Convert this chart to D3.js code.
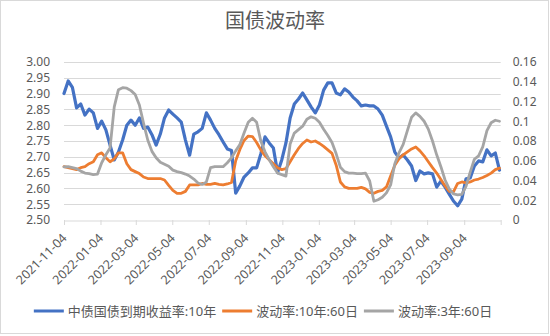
<!DOCTYPE html>
<html><head><meta charset="utf-8">
<script src="https://cdn.jsdelivr.net/npm/d3@7"></script>
<style>body{margin:0;background:#fff}svg{display:block}</style>
</head><body>
<svg id="c" width="550" height="336"></svg>
<script>
const title = "国债波动率";
const seriesNames = ["中债国债到期收益率:10年", "波动率:10年:60日", "波动率:3年:60日"];
const dates = [
"2021-11-04","2021-11-11","2021-11-18","2021-11-25","2021-12-02","2021-12-09","2021-12-16","2021-12-23","2021-12-30",
"2022-01-06","2022-01-13","2022-01-20","2022-01-27","2022-02-03","2022-02-10","2022-02-17","2022-02-24","2022-03-03","2022-03-10","2022-03-17","2022-03-24",
"2022-03-31","2022-04-07","2022-04-14","2022-04-21","2022-04-28","2022-05-05","2022-05-12","2022-05-19","2022-05-26","2022-06-02",
"2022-06-09","2022-06-16","2022-06-23","2022-06-30","2022-07-07","2022-07-14","2022-07-21","2022-07-28","2022-08-04","2022-08-11",
"2022-08-18","2022-08-25","2022-09-01","2022-09-08","2022-09-15","2022-09-22","2022-09-29","2022-10-06","2022-10-13","2022-10-20",
"2022-10-27","2022-11-03","2022-11-10","2022-11-17","2022-11-24","2022-12-01","2022-12-08","2022-12-15","2022-12-22","2022-12-29",
"2023-01-05","2023-01-12","2023-01-19","2023-01-26","2023-02-02","2023-02-09","2023-02-16","2023-02-23","2023-03-02","2023-03-09",
"2023-03-16","2023-03-23","2023-03-30","2023-04-06","2023-04-13","2023-04-20","2023-04-27","2023-05-04","2023-05-11","2023-05-18",
"2023-05-25","2023-06-01","2023-06-08","2023-06-15","2023-06-22","2023-06-29","2023-07-06","2023-07-13","2023-07-20","2023-07-27",
"2023-08-03","2023-08-10","2023-08-17","2023-08-24","2023-08-31","2023-09-07","2023-09-14","2023-09-21","2023-09-28","2023-10-05",
"2023-10-12","2023-10-19","2023-10-26","2023-11-02"];
const yield10 = [
2.90,2.94,2.92,2.855,2.867,2.832,2.851,2.839,2.79,
2.813,2.785,2.737,2.69,2.715,2.753,2.80,2.816,2.80,2.823,2.79,2.794,
2.77,2.737,2.772,2.823,2.848,2.835,2.823,2.81,2.753,2.705,
2.772,2.779,2.79,2.839,2.816,2.79,2.77,2.747,2.725,2.72,
2.585,2.608,2.636,2.649,2.665,2.665,2.709,2.763,2.744,2.728,
2.65,2.69,2.744,2.823,2.867,2.883,2.902,2.88,2.858,2.839,
2.864,2.911,2.934,2.934,2.902,2.896,2.915,2.905,2.889,2.877,
2.861,2.864,2.861,2.861,2.851,2.832,2.797,2.763,2.715,2.696,
2.706,2.69,2.671,2.625,2.655,2.646,2.649,2.646,2.604,2.623,
2.604,2.582,2.56,2.545,2.566,2.63,2.633,2.671,2.687,2.684,
2.722,2.703,2.712,2.658];
const vol10 = [
0.054,0.053,0.052,0.051,0.053,0.054,0.057,0.059,0.066,
0.068,0.063,0.059,0.062,0.068,0.068,0.057,0.051,0.049,0.047,0.0435,0.042,
0.042,0.042,0.042,0.0405,0.035,0.030,0.027,0.027,0.029,0.0355,
0.0355,0.0355,0.037,0.036,0.036,0.037,0.036,0.0355,0.0365,0.038,
0.060,0.0715,0.0805,0.085,0.0845,0.0785,0.071,0.065,0.061,0.057,
0.053,0.051,0.052,0.059,0.066,0.0725,0.0775,0.081,0.079,0.080,
0.0775,0.0745,0.071,0.0675,0.0555,0.0385,0.0335,0.032,0.032,0.032,
0.033,0.0315,0.028,0.027,0.029,0.030,0.0335,0.0445,0.0555,0.062,
0.066,0.069,0.072,0.074,0.070,0.065,0.059,0.053,0.0475,0.041,
0.0345,0.029,0.0285,0.037,0.0385,0.0375,0.0385,0.0405,0.0415,0.043,
0.045,0.0475,0.051,0.0525];
const vol3 = [
0.0537,0.054,0.053,0.052,0.0495,0.0475,0.047,0.046,0.0465,
0.058,0.066,0.073,0.1145,0.132,0.134,0.1335,0.131,0.127,0.1165,0.098,0.081,
0.0695,0.063,0.0585,0.0565,0.0545,0.0505,0.049,0.048,0.0465,0.0445,
0.0415,0.0375,0.036,0.0385,0.053,0.054,0.054,0.054,0.058,0.063,
0.070,0.0765,0.088,0.099,0.103,0.099,0.080,0.069,0.061,0.054,
0.0475,0.046,0.0445,0.077,0.088,0.0915,0.095,0.102,0.1045,0.103,
0.099,0.092,0.0855,0.0785,0.067,0.0535,0.049,0.0475,0.0475,0.047,
0.047,0.0475,0.0395,0.019,0.0205,0.023,0.0275,0.0355,0.057,0.068,
0.0765,0.0905,0.104,0.1085,0.105,0.100,0.092,0.080,0.066,0.054,
0.0405,0.0315,0.0265,0.0255,0.026,0.034,0.0485,0.0615,0.065,0.074,
0.0905,0.0985,0.101,0.100];
const xTickLabels = ["2021-11-04","2022-01-04","2022-03-04","2022-05-04","2022-07-04","2022-09-04",
"2022-11-04","2023-01-04","2023-03-04","2023-05-04","2023-07-04","2023-09-04"];
const xAxisEnd = "2023-11-04";
const leftTicks = [2.50,2.55,2.60,2.65,2.70,2.75,2.80,2.85,2.90,2.95,3.00];
const rightTicks = [0,0.02,0.04,0.06,0.08,0.10,0.12,0.14,0.16];
const colors = ["#4472C4","#ED7D31","#A5A5A5"];

const FONT = "'Noto Sans','Noto Sans CJK SC',sans-serif";
const TXT = "#595959";
const GRID = "#d9d9d9";
const svg = d3.select("#c");
const m = {left:64, right:500.7, top:62, bottom:220};
const parse = d3.timeParse("%Y-%m-%d");
const x = d3.scaleTime().domain([parse(xTickLabels[0]), parse(xAxisEnd)]).range([m.left, m.right]);
const yL = d3.scaleLinear().domain([leftTicks[0], leftTicks[leftTicks.length-1]]).range([m.bottom, m.top]);
const yR = d3.scaleLinear().domain([rightTicks[0], rightTicks[rightTicks.length-1]]).range([m.bottom, m.top]);

svg.append("rect").attr("x",0.5).attr("y",0.5).attr("width",548).attr("height",333)
  .attr("fill","#fff").attr("stroke",GRID).attr("stroke-width",1);

svg.append("text").attr("x",275).attr("y",27.5).attr("text-anchor","middle")
  .attr("font-family",FONT).attr("font-size",20).attr("fill",TXT).text(title);

// gridlines
svg.append("g").selectAll("line").data(leftTicks.slice(1)).join("line")
  .attr("x1",m.left).attr("x2",m.right)
  .attr("y1",d=>Math.round(yL(d))+0.5).attr("y2",d=>Math.round(yL(d))+0.5)
  .attr("stroke",GRID).attr("stroke-width",1);

// left axis
const gl = svg.append("g").attr("transform",`translate(${m.left},0)`)
  .call(d3.axisLeft(yL).tickValues(leftTicks).tickFormat(d3.format(".2f")).tickSize(0).tickPadding(14));
gl.select(".domain").remove();
gl.selectAll("text").attr("font-family",FONT).attr("font-size",12).attr("fill",TXT);

// right axis
const fmtR = d => d === 0 ? "0" : String(+d.toFixed(2));
const gr = svg.append("g").attr("transform",`translate(${m.right},0)`)
  .call(d3.axisRight(yR).tickValues(rightTicks).tickFormat(fmtR).tickSize(0).tickPadding(12));
gr.select(".domain").remove();
gr.selectAll("text").attr("font-family",FONT).attr("font-size",12).attr("fill",TXT);

// bottom axis
const tickDates = xTickLabels.concat([xAxisEnd]).map(parse);
const gb = svg.append("g").attr("transform",`translate(0,${m.bottom})`)
  .call(d3.axisBottom(x).tickValues(tickDates)
    .tickFormat((d,i) => i < xTickLabels.length ? xTickLabels[i] : "").tickSize(5).tickSizeOuter(0));
gb.select(".domain").attr("stroke",GRID).attr("stroke-width",1).attr("transform","translate(0,0.5)");
gb.selectAll(".tick line").attr("stroke",GRID);
gb.selectAll("text").attr("font-family",FONT).attr("font-size",12.5).attr("fill",TXT)
  .attr("x",0).attr("y",0).attr("dy",0).attr("text-anchor","end")
  .attr("transform","translate(3,19) rotate(-45)");

// lines
const seriesData = [
  {vals: yield10, y: yL, w: 3.2},
  {vals: vol10, y: yR, w: 2.8},
  {vals: vol3, y: yR, w: 2.8}
];
seriesData.forEach((s, si) => {
  const line = d3.line().x((d,i) => x(parse(dates[i]))).y(d => s.y(d)).curve(d3.curveLinear);
  svg.append("path").datum(s.vals).attr("d", line)
    .attr("fill","none").attr("stroke",colors[si]).attr("stroke-width",s.w)
    .attr("stroke-linejoin","round").attr("stroke-linecap","round");
});

// legend
const lg = svg.append("g");
const items = seriesNames.map((n,i) => {
  const g = lg.append("g");
  g.append("line").attr("x1",0).attr("x2",30).attr("y1",311).attr("y2",311)
    .attr("stroke",colors[i]).attr("stroke-width",3);
  const t = g.append("text").attr("x",34).attr("y",315.5).attr("font-family",FONT)
    .attr("font-size",13).attr("fill",TXT).text(n);
  return {g, w: 34 + t.node().getComputedTextLength()};
});
const gap = 6;
const total = d3.sum(items, d => d.w) + gap * (items.length - 1);
let cx = 263 - total / 2;
items.forEach(it => { it.g.attr("transform", `translate(${cx},0)`); cx += it.w + gap; });
</script>
</body></html>
